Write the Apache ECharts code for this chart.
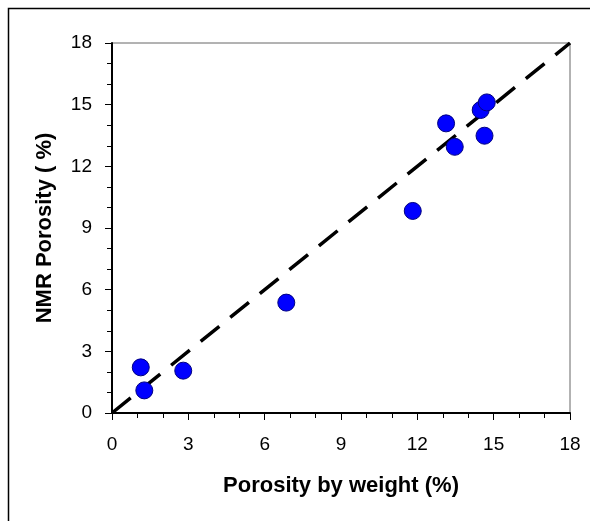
<!DOCTYPE html>
<html>
<head>
<meta charset="utf-8">
<script src="https://cdn.jsdelivr.net/npm/echarts@6/dist/echarts.min.js"></script>
<style>
  html, body { margin: 0; padding: 0; background: #fff; }
  #chart { width: 590px; height: 521px; }
</style>
</head>
<body>
<div id="chart"></div>
<script>
// measured points
var weightX = [1.13, 1.27, 2.80, 6.85, 11.82, 13.13, 13.47, 14.49, 14.73, 14.64];
var nmrY = [2.22, 1.10, 2.06, 5.37, 9.83, 14.09, 12.95, 14.74, 15.11, 13.49];
// 1:1 reference line
var lineX = [0, 18];
var lineY = [0, 18];
var tickLabels = ['0', '3', '6', '9', '12', '15', '18'];

var font = 'Liberation Sans, Arial, sans-serif';

var axisCommon = {
    type: 'value',
    min: 0,
    max: 18,
    interval: 3,
    nameLocation: 'middle',
    nameTextStyle: {
        fontFamily: font,
        fontSize: 22,
        fontWeight: 'bold',
        color: '#000',
    },
    axisLine: {
        show: true,
        onZero: false,
        lineStyle: { color: '#000', width: 2 },
    },
    axisTick: {
        show: true,
        inside: false,
        length: 7,
        lineStyle: { color: '#000', width: 1 },
    },
    minorTick: {
        show: true,
        splitNumber: 3,
        length: 5,
        lineStyle: { color: '#000', width: 1 },
    },
    splitLine: { show: false },
    axisLabel: {
        fontFamily: font,
        fontSize: 19,
        color: '#000',
        formatter: function (v) {
            return tickLabels[Math.round(v / 3)];
        },
    },
};

var chart = echarts.init(document.getElementById('chart'));
chart.setOption({
    animation: false,
    backgroundColor: '#fff',
    grid: {
        left: 112,
        top: 43,
        right: 20,
        bottom: 108,
        show: true,
        borderColor: '#666',
        borderWidth: 1,
    },
    graphic: [{
        type: 'polyline',
        shape: { points: [[8.5, 521], [8.5, 8.5], [590, 8.5]] },
        style: { stroke: '#000', lineWidth: 1.5, fill: null },
        silent: true,
    }],
    xAxis: Object.assign({}, axisCommon, {
        name: 'Porosity by weight (%)',
        nameGap: 62,
        axisLabel: Object.assign({}, axisCommon.axisLabel, { margin: 22 }),
    }),
    yAxis: Object.assign({}, axisCommon, {
        name: 'NMR Porosity ( %)',
        nameGap: 56,
        axisLabel: Object.assign({}, axisCommon.axisLabel, { margin: 20 }),
    }),
    series: [{
        type: 'line',
        data: lineX.map(function (x, i) { return [x, lineY[i]]; }),
        symbol: 'none',
        lineStyle: {
            color: '#000',
            width: 3.5,
            type: [24, 14],
        },
        z: 2,
    }, {
        type: 'scatter',
        data: weightX.map(function (x, i) { return [x, nmrY[i]]; }),
        symbol: 'circle',
        symbolSize: 17,
        itemStyle: {
            color: '#0000ff',
            borderColor: '#000080',
            borderWidth: 1,
            opacity: 1,
        },
        z: 3,
    }],
});
</script>
</body>
</html>
